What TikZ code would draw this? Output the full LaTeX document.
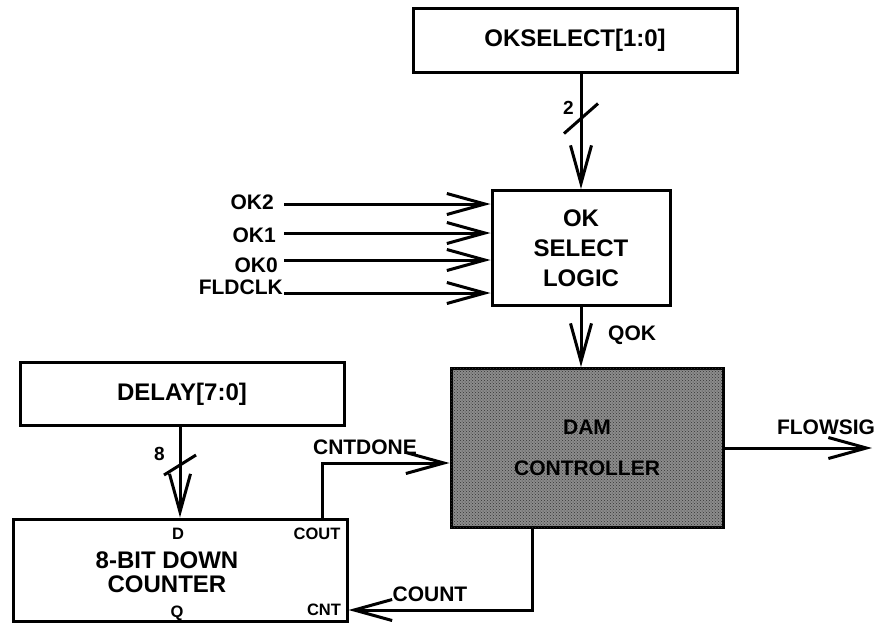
\documentclass[tikz,border=0pt]{standalone}
\usepackage{fontspec}
\setmainfont{Liberation Sans}
\usetikzlibrary{arrows.meta,positioning,patterns}

\tikzset{
  blk/.style={draw, line width=3pt, align=center, inner sep=0pt, font=\bfseries\fontsize{24}{30}\selectfont},
  sig/.style={line width=3pt, -{Straight Barb[length=38pt,width=21pt]}},
  wire/.style={line width=3pt},
  lbl/.style={inner sep=1pt, font=\bfseries\fontsize{21}{24}\selectfont},
  pinlbl/.style={inner sep=1pt, font=\bfseries\fontsize{16.5}{18}\selectfont},
  buslbl/.style={inner sep=1pt, font=\bfseries\fontsize{19}{21}\selectfont}
}

\begin{document}
\begin{tikzpicture}[x=1pt,y=-1pt]
\useasboundingbox (0,0) rectangle (878,625);
\node[blk, minimum width=324pt, minimum height=64pt] (okselect) at (575,40) {OKSELECT[1:0]};
\node[blk, minimum width=178pt, minimum height=115pt] (oklogic) at (581,248) {OK\\SELECT\\LOGIC};
\node[blk, minimum width=272pt, minimum height=159pt, fill=black!45, postaction={pattern=crosshatch dots, pattern color=black!80}, font=\bfseries\fontsize{21}{41}\selectfont] (dam) at (587,448) {DAM\\CONTROLLER};
\node[blk, minimum width=324pt, minimum height=63pt] (delay) at (182,394) {DELAY[7:0]};
\node[blk, minimum width=334pt, minimum height=102pt] (counter) at (180,570) {};
\node[blk, draw=none] (cnttitle) at (167,572) {8-BIT DOWN\\[-6pt]COUNTER};
\node[pinlbl] (dpin) at (178,534) {D}; \node[pinlbl] (coutpin) at (317,534) {COUT};
\node[pinlbl] (qpin) at (177,613) {Q}; \node[pinlbl] (cntpin) at (324,610) {CNT};

\draw[sig] (okselect.south -| oklogic.north) -- coordinate[pos=0.39] (slashtop) (oklogic.north);
\draw[wire] (slashtop) ++(-17,15) -- ++(34,-30);
\node[buslbl, above left=3pt and 6pt of slashtop] (bustop) {2};

\foreach \sname/\ty/\dy/\gap in {OK2/202/-2/9, OK1/235/2/7, OK0/265/5/5, FLDCLK/287/-6/0} {
  \node[lbl, anchor=east] (\sname) at (284-\gap,\ty) {\sname};
  \draw[sig] ([yshift=\dy pt, xshift=\gap pt]\sname.east) -- ([yshift=\dy pt]\sname.east -| oklogic.west);
}

\draw[sig] (oklogic.south) -- (oklogic.south |- dam.north);
\node[lbl, anchor=west] (qok) at (607,335) {QOK};

\draw[sig] (delay.south -| counter.north) -- coordinate[pos=0.42] (slashbot) (counter.north);
\draw[wire] (slashbot) ++(-16,10) -- ++(32,-20);
\node[buslbl, above left=3pt and 14pt of slashbot] (busbot) {8};

\draw[sig] ([xshift=5pt]coutpin.center |- counter.north) |- ([yshift=-15pt]dam.west);
\node[lbl] (cntdone) at (365,447) {CNTDONE};
\draw[sig] ([xshift=-55pt]dam.south) |- (cntpin -| counter.east);
\node[lbl] (count) at (430,594) {COUNT};
\coordinate (flowend) at (872,448);
\draw[sig] (dam.east) -- (flowend);
\node[lbl] (flowsig) at (826,427) {FLOWSIG};
\end{tikzpicture}
\end{document}
